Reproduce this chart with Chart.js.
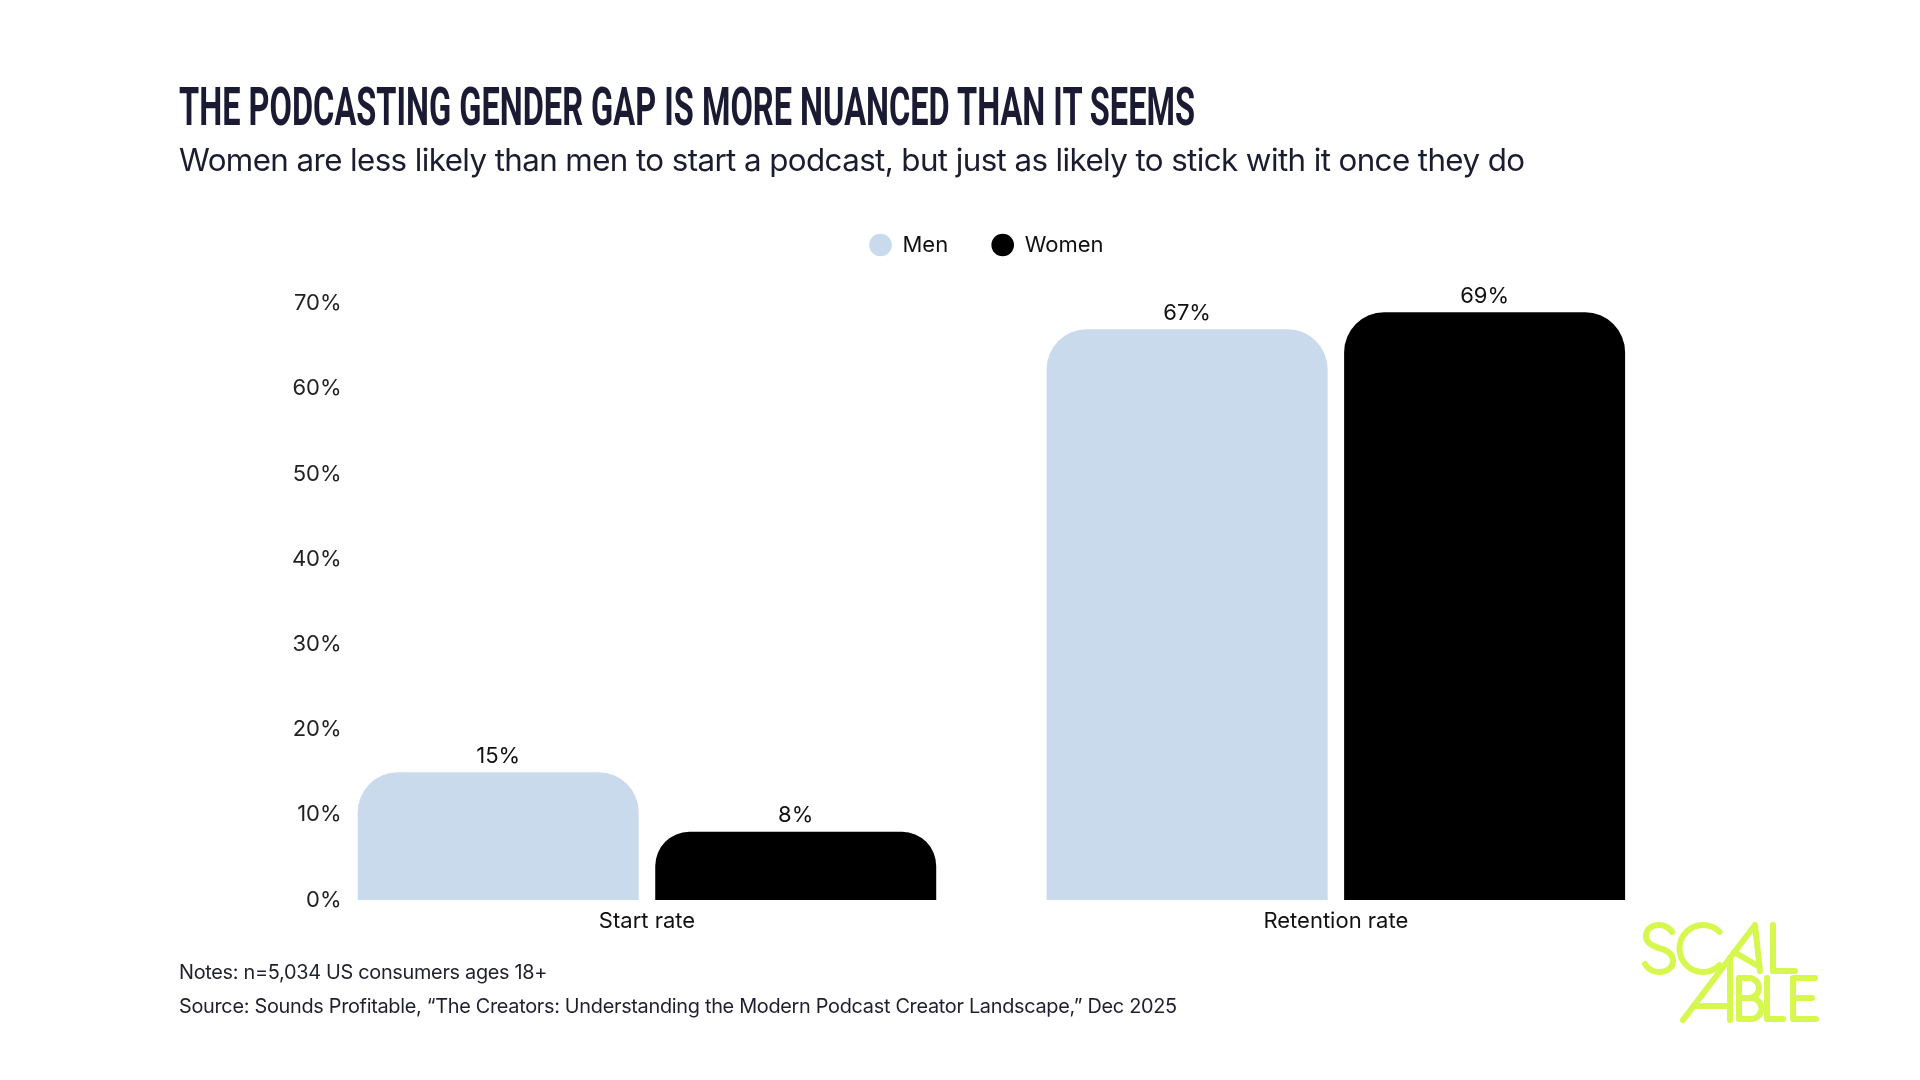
<!DOCTYPE html>
<html><head><meta charset="utf-8">
<script src="https://cdn.jsdelivr.net/npm/chart.js@4"></script>
<style>
html,body{margin:0;padding:0;background:#fff;width:1920px;height:1080px;overflow:hidden}
#wrap{position:relative;width:1920px;height:1080px;background:#fff}
#c{position:absolute;left:0;top:0}
#t{position:absolute;left:0;top:0;pointer-events:none}
</style></head><body>
<div id="wrap">
<canvas id="c" width="1920" height="1080"></canvas>
<svg id="t" width="1920" height="1080" viewBox="0 0 1920 1080" xmlns="http://www.w3.org/2000/svg">
  <text id="title" x="179" y="124.5" font-family="Roboto" font-weight="700" font-size="54" fill="#1b1a33" textLength="1016" lengthAdjust="spacingAndGlyphs">THE PODCASTING GENDER GAP IS MORE NUANCED THAN IT SEEMS</text>
  <text id="subtitle" x="179" y="171" font-family="Inter" font-weight="400" font-size="30" letter-spacing="-0.6" fill="#1c1c30">Women are less likely than men to start a podcast, but just as likely to stick with it once they do</text>
  <text id="notes" x="179" y="979" font-family="Inter" font-weight="400" font-size="20" letter-spacing="-0.3" fill="#1f1f2e">Notes: n=5,034 US consumers ages 18+</text>
  <text id="source" x="179" y="1013" font-family="Inter" font-weight="400" font-size="20" letter-spacing="-0.3" fill="#1f1f2e">Source: Sounds Profitable, “The Creators: Understanding the Modern Podcast Creator Landscape,” Dec 2025</text>
  <g fill="none" stroke="#d5f74e" stroke-width="6" stroke-linecap="round" stroke-linejoin="round">
    <path d="M1672,932 C1668,926 1663,925 1659,925 C1651,925 1646,930 1646,936 C1646,943 1652,946 1659,948 C1667,950 1673,954 1673,961 C1673,968 1667,972 1659,972 C1653,972 1648,969 1645,964"/>
    <path d="M1719.6,931.9 A23.5,23.5 0 1 0 1719.6,965.1"/>
    <path d="M1683,1020 L1755,925 L1760,971"/>
    <path d="M1734,952 L1758,966"/>
    <path d="M1773,925 V971 H1795"/>
    <path d="M1730,958 V1020 M1694,1006 H1730"/>
    <path d="M1739,978 V1019 H1751 A10.5,10.5 0 0 0 1751,998 H1739 M1739,978 H1749 A10,10 0 0 1 1749,998"/>
    <path d="M1767,978 V1019 H1783"/>
    <path d="M1815,978 H1793 V1019 H1816 M1793,998 H1812"/>
  </g>
</svg>
</div>
<script>
// ---- data ----
const categories = ['Start rate', 'Retention rate'];
const seriesNames = ['Men', 'Women'];
const menValues = [15, 67];
const womenValues = [8, 69];
const yTickValues = [0, 10, 20, 30, 40, 50, 60, 70];
const yTickLabels = ['0%', '10%', '20%', '30%', '40%', '50%', '60%', '70%'];

// ---- fit text widths ----
function fitWidth(id, target) {
  const el = document.getElementById(id);
  const fs = parseFloat(el.getAttribute('font-size'));
  const w = el.getComputedTextLength();
  if (w > 0) el.setAttribute('font-size', (fs * target / w).toFixed(2));
}
fitWidth('subtitle', 1343);
fitWidth('source', 999);
document.getElementById('notes').setAttribute('font-size', document.getElementById('source').getAttribute('font-size'));

const FONT_FAMILY = 'Inter, "Noto Sans", sans-serif';
const FS = 22;
Chart.defaults.font.family = FONT_FAMILY;

// chart-area placement and x range (category index axis as a linear scale)
const TARGET = { left: 347.6, right: 1680.3, top: 303.7, bottom: 900 };
const X_MIN = -0.4346, X_MAX = 1.5;
const LEGEND_START_X = 869.5;
const LEGEND_CENTER_Y = 245;

const legendPlace = {
  id: 'legendPlace',
  afterLayout(chart) {
    const lg = chart.legend;
    if (!lg || !lg.lineWidths) return;
    const pad = lg.options.labels.padding;
    const fs = lg.options.labels.font.size;
    const start = (lg.left + pad + lg.right - lg.lineWidths[0]) / 2;
    const dx = LEGEND_START_X - start;
    const dy = LEGEND_CENTER_Y - (lg.top + pad + fs / 2);
    lg.left += dx; lg.right += dx; lg.top += dy; lg.bottom += dy;
  }
};

const valueLabels = {
  id: 'valueLabels',
  afterDatasetsDraw(chart) {
    const ctx = chart.ctx;
    ctx.save();
    ctx.font = FS + 'px ' + FONT_FAMILY;
    ctx.fillStyle = '#111111';
    ctx.textAlign = 'center';
    ctx.textBaseline = 'middle';
    chart.data.datasets.forEach((ds, i) => {
      chart.getDatasetMeta(i).data.forEach((bar, j) => {
        ctx.fillText(ds.data[j].y + '%', bar.x, bar.y - 16);
      });
    });
    ctx.restore();
  }
};

const radius = { topLeft: 40, topRight: 40, bottomLeft: 0, bottomRight: 0 };
const toPoints = vals => vals.map((v, i) => ({ x: i, y: v }));

const chart = new Chart(document.getElementById('c'), {
  type: 'bar',
  data: {
    datasets: [
      { label: seriesNames[0], data: toPoints(menValues), backgroundColor: '#c9daec', borderRadius: radius, borderSkipped: false,
        categoryPercentage: 0.8637, barPercentage: 0.9445 },
      { label: seriesNames[1], data: toPoints(womenValues), backgroundColor: '#000000', borderRadius: radius, borderSkipped: false,
        categoryPercentage: 0.8637, barPercentage: 0.9445 }
    ]
  },
  options: {
    responsive: false,
    animation: false,
    devicePixelRatio: 1,
    layout: { padding: { left: 300, right: 239, top: 170, bottom: 130 } },
    plugins: {
      legend: {
        position: 'top',
        labels: {
          usePointStyle: true, pointStyle: 'circle',
          boxWidth: 23, boxHeight: 16, padding: 43.5,
          font: { size: FS }, color: '#111111'
        }
      },
      tooltip: { enabled: false },
      title: { display: false }
    },
    scales: {
      x: {
        type: 'linear', min: X_MIN, max: X_MAX, offset: false,
        afterBuildTicks: s => { s.ticks = categories.map((c, i) => ({ value: i })); },
        grid: { display: false, drawTicks: false },
        border: { display: false },
        ticks: { font: { size: FS }, color: '#111111', padding: 8, autoSkip: false, maxRotation: 0,
                 callback: v => categories[v] ?? '' }
      },
      y: {
        min: 0, max: 70,
        afterBuildTicks: s => { s.ticks = yTickValues.map(v => ({ value: v })); },
        grid: { display: false, drawTicks: false },
        border: { display: false },
        ticks: {
          padding: 6,
          font: { size: FS }, color: '#222222',
          callback: (v) => yTickLabels[yTickValues.indexOf(v)] ?? (v + '%')
        }
      }
    }
  },
  plugins: [legendPlace, valueLabels]
});

// place chart area exactly
const ca = chart.chartArea;
const p = chart.options.layout.padding;
chart.options.layout.padding = {
  left: p.left + (TARGET.left - ca.left),
  right: p.right + (ca.right - TARGET.right),
  top: p.top + (TARGET.top - ca.top),
  bottom: p.bottom + (ca.bottom - TARGET.bottom)
};
chart.update();
</script>
</body></html>
